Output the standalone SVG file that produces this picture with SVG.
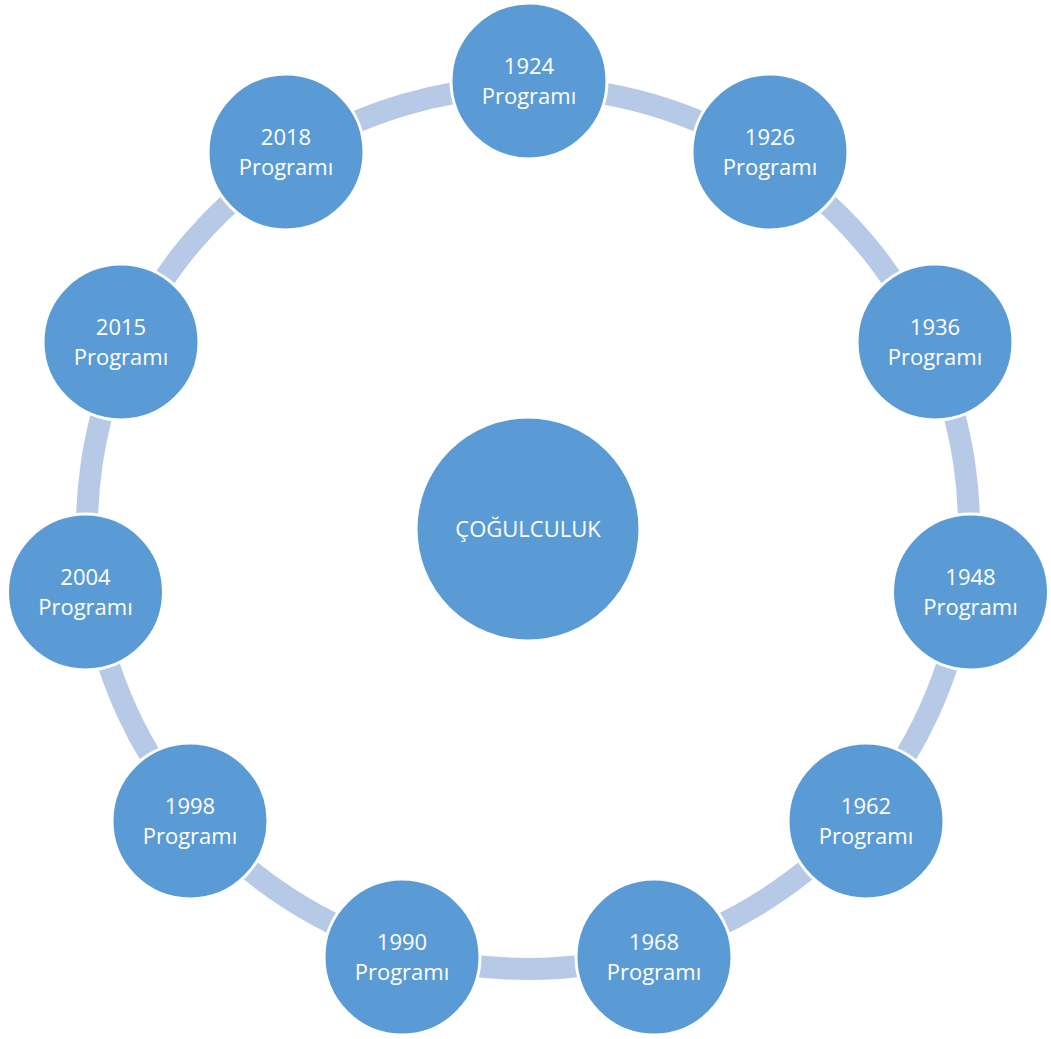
<svg xmlns="http://www.w3.org/2000/svg" width="1051" height="1039" viewBox="0 0 1051 1039">
<style>
.band{fill:none;stroke:#B6CAE8;stroke-width:22}
.node{fill:#5B9BD5;stroke:#FFFFFF;stroke-width:3}
.t{fill:#FFFFFF;font-family:"Open Sans",Lato,"Liberation Sans",sans-serif;font-size:22px;text-anchor:middle}
</style>
<rect width="1051" height="1039" fill="#FFFFFF"/>
<g id="connectors">
<path class="band" d="M528,87 A441,441 0 0 1 766.42,157.01"/>
<path class="band" d="M766.42,157.01 A441,441 0 0 1 929.15,344.80"/>
<path class="band" d="M929.15,344.80 A441,441 0 0 1 964.51,590.76"/>
<path class="band" d="M964.51,590.76 A441,441 0 0 1 861.29,816.79"/>
<path class="band" d="M861.29,816.79 A441,441 0 0 1 652.24,951.13"/>
<path class="band" d="M652.24,951.13 A441,441 0 0 1 403.76,951.13"/>
<path class="band" d="M403.76,951.13 A441,441 0 0 1 194.71,816.79"/>
<path class="band" d="M194.71,816.79 A441,441 0 0 1 91.49,590.76"/>
<path class="band" d="M91.49,590.76 A441,441 0 0 1 126.85,344.80"/>
<path class="band" d="M126.85,344.80 A441,441 0 0 1 289.58,157.01"/>
<path class="band" d="M289.58,157.01 A441,441 0 0 1 528,87"/>
</g>
<g id="center"><circle class="node" cx="528" cy="529" r="112"/><text class="t" x="528" y="537">ÇOĞULCULUK</text></g>
<g id="n1924"><circle class="node" cx="529" cy="81" r="78"/><text class="t" x="529" y="74">1924</text><text class="t" x="529" y="104">Programı</text></g>
<g id="n1926"><circle class="node" cx="770" cy="152" r="78"/><text class="t" x="770" y="145">1926</text><text class="t" x="770" y="175">Programı</text></g>
<g id="n1936"><circle class="node" cx="935" cy="342" r="78"/><text class="t" x="935" y="335">1936</text><text class="t" x="935" y="365">Programı</text></g>
<g id="n1948"><circle class="node" cx="970.5" cy="592" r="78"/><text class="t" x="970.5" y="585">1948</text><text class="t" x="970.5" y="615">Programı</text></g>
<g id="n1962"><circle class="node" cx="866" cy="821" r="78"/><text class="t" x="866" y="814">1962</text><text class="t" x="866" y="844">Programı</text></g>
<g id="n1968"><circle class="node" cx="654" cy="957" r="78"/><text class="t" x="654" y="950">1968</text><text class="t" x="654" y="980">Programı</text></g>
<g id="n1990"><circle class="node" cx="402" cy="957" r="78"/><text class="t" x="402" y="950">1990</text><text class="t" x="402" y="980">Programı</text></g>
<g id="n1998"><circle class="node" cx="190" cy="821" r="78"/><text class="t" x="190" y="814">1998</text><text class="t" x="190" y="844">Programı</text></g>
<g id="n2004"><circle class="node" cx="85.5" cy="592" r="78"/><text class="t" x="85.5" y="585">2004</text><text class="t" x="85.5" y="615">Programı</text></g>
<g id="n2015"><circle class="node" cx="121" cy="342" r="78"/><text class="t" x="121" y="335">2015</text><text class="t" x="121" y="365">Programı</text></g>
<g id="n2018"><circle class="node" cx="286" cy="152" r="78"/><text class="t" x="286" y="145">2018</text><text class="t" x="286" y="175">Programı</text></g>
</svg>
